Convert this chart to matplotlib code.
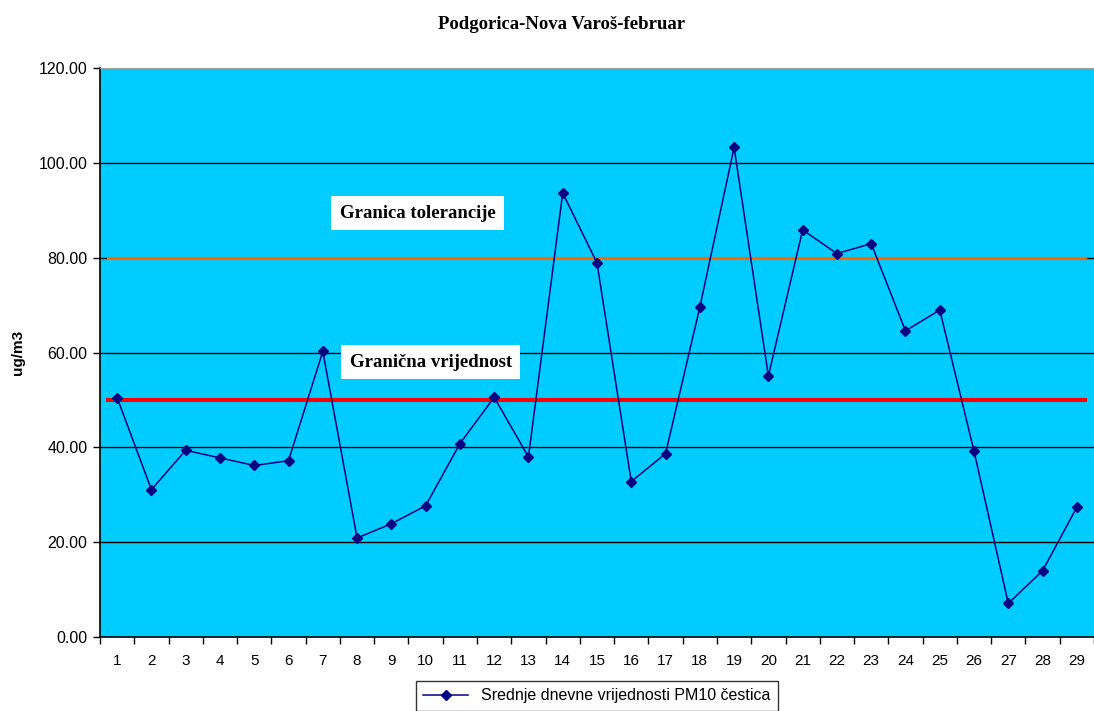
import numpy as np
import matplotlib
matplotlib.use("Agg")
import matplotlib.pyplot as plt
from matplotlib.ticker import FixedLocator, FuncFormatter

# dani u februaru i srednje dnevne vrijednosti PM10
days = list(range(1, 30))
pm10 = [50.5, 31.1, 39.4, 37.8, 36.2, 37.2, 60.3, 20.9, 23.9, 27.7,
        40.8, 50.6, 38.0, 93.7, 78.9, 32.8, 38.7, 69.6, 103.3, 55.1,
        85.9, 80.9, 83.0, 64.6, 69.0, 39.2, 7.1, 14.0, 27.4]
granicna = 50
tolerancija = 80
y_ticks = [0, 20, 40, 60, 80, 100, 120]

plt.rcParams['font.family'] = ['Liberation Sans', 'DejaVu Sans']
serif = ['Liberation Serif', 'DejaVu Serif']

fig = plt.figure(figsize=(10.94, 7.11), dpi=100)
ax = fig.add_axes([0.0914, 0.104, 0.9086, 0.800])
ax.set_facecolor('#00CCFF')

# horizontalne linije granica
ax.plot([0.72, 29.25], [tolerancija, tolerancija], color='#FF6600', lw=2.3, zorder=3)
ax.plot([0.72, 29.25], [granicna, granicna], color='#FF0000', lw=2.9, zorder=3)

line, = ax.plot(days, pm10, color='#000080', lw=1.1, marker='D', markersize=5,
                markerfacecolor='#000080', markeredgecolor='#000080', zorder=4,
                label='Srednje dnevne vrijednosti PM10 čestica')

ax.set_xlim(0.5, 29.5)
ax.set_ylim(0, 120)
ax.set_yticks(y_ticks)
ax.yaxis.set_major_formatter(FuncFormatter(lambda v, p: '%.2f' % v))
for yv in y_ticks[1:-1]:
    ax.axhline(yv, color='black', lw=1.0, zorder=1)

ax.set_xticks(days)
ax.set_xticklabels([str(d) for d in days])
ax.xaxis.set_minor_locator(FixedLocator(np.arange(0.5, 30, 1)))
ax.tick_params(axis='x', which='major', length=0, pad=12, labelsize=11)
ax.tick_params(axis='x', which='minor', length=5, width=1, direction='out')
ax.tick_params(axis='y', length=5, width=1, direction='out', labelsize=11.5, pad=4)

for s in ['left', 'bottom']:
    ax.spines[s].set_color('black')
    ax.spines[s].set_linewidth(1.2)
ax.spines['top'].set_color('#A0A0A0')
ax.spines['right'].set_visible(False)

ax.set_ylabel('ug/m3', fontsize=11, fontweight='bold', labelpad=10)

box = dict(boxstyle='square,pad=0.45', facecolor='white', edgecolor='none')
ax.text(9.77, 89.4, 'Granica tolerancije', fontsize=13.5, fontweight='bold',
        family=serif, ha='center', va='center', bbox=box, zorder=5)
ax.text(10.15, 58.0, 'Granična vrijednost', fontsize=13.5, fontweight='bold',
        family=serif, ha='center', va='center', bbox=box, zorder=5)

fig.suptitle('Podgorica-Nova Varoš-februar', x=0.513, y=0.978, fontsize=13.5, fontweight='bold',
             family=serif)

leg = fig.legend(handles=[line], loc='upper center', bbox_to_anchor=(0.5456, 0.042),
                 fontsize=11.5, frameon=True, fancybox=False, handlelength=2.8,
                 borderpad=0.45, borderaxespad=0)
leg.get_frame().set_edgecolor('black')
leg.get_frame().set_linewidth(1.0)

fig.savefig('out.png', dpi=100)
